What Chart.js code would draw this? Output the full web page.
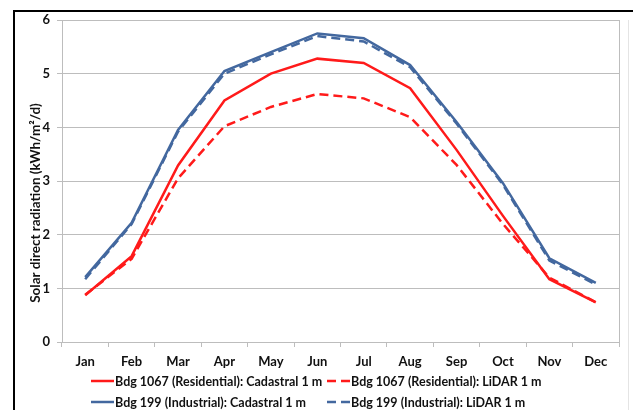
<!DOCTYPE html>
<html>
<head>
<meta charset="utf-8">
<script src="https://cdn.jsdelivr.net/npm/chart.js@4/dist/chart.umd.min.js"></script>
<style>
  html, body { margin: 0; padding: 0; background: #ffffff; }
  #wrap { position: relative; width: 633px; height: 410px; overflow: hidden; }
  #frame { position: absolute; left: 13px; top: 10px; width: 700px; height: 500px; border-top: 2px solid #000; border-left: 2px solid #000; box-sizing: border-box; }
  #faint { position: absolute; left: 628px; top: 20px; width: 1px; height: 390px; background: #e4e4e4; }
  canvas { position: absolute; left: 0; top: 0; }
</style>
</head>
<body>
<div id="wrap">
  <div id="frame"></div>
  <div id="faint"></div>
  <canvas id="c" width="633" height="410"></canvas>
</div>
<script>
const months = ['Jan','Feb','Mar','Apr','May','Jun','Jul','Aug','Sep','Oct','Nov','Dec'];
const resCadastral = [0.87, 1.60, 3.29, 4.50, 5.00, 5.28, 5.20, 4.73, 3.58, 2.35, 1.17, 0.74];
const resLidar     = [0.88, 1.55, 3.05, 4.02, 4.38, 4.62, 4.54, 4.19, 3.30, 2.20, 1.20, 0.74];
const indCadastral = [1.21, 2.22, 3.95, 5.05, 5.40, 5.75, 5.66, 5.16, 4.10, 2.96, 1.56, 1.10];
const indLidar     = [1.17, 2.20, 3.92, 5.00, 5.36, 5.70, 5.60, 5.12, 4.07, 2.93, 1.52, 1.07];
const yTicks = [0, 1, 2, 3, 4, 5, 6];
const seriesNames = [
  'Bdg 1067 (Residential): Cadastral 1 m',
  'Bdg 1067 (Residential): LiDAR 1 m',
  'Bdg 199 (Industrial): Cadastral 1 m',
  'Bdg 199 (Industrial): LiDAR 1 m'
];
const yTitle = 'Solar direct radiation (kWh/m\u00B2/d)';

const RED = '#ff1a1a';
const BLUE = '#43689f';
const GRID = '#bdbdbd';
const TEXT = '#111111';
const FONT = 'Lato, "DejaVu Sans", sans-serif';
const DASH = [9, 5];

const frameBorder = {
  id: 'frameBorder',
  afterDatasetsDraw(chart) {
    const a = chart.chartArea, ctx = chart.ctx;
    ctx.save();
    ctx.strokeStyle = GRID;
    ctx.lineWidth = 1;
    ctx.beginPath();
    ctx.moveTo(Math.round(a.right) + 0.5, a.top);
    ctx.lineTo(Math.round(a.right) + 0.5, a.bottom);
    ctx.stroke();
    ctx.restore();
  }
};

const yTitlePlugin = {
  id: 'yTitlePlugin',
  afterDraw(chart) {
    const ctx = chart.ctx;
    const a = chart.chartArea;
    ctx.save();
    ctx.translate(36, (a.top + a.bottom) / 2 + 22);
    ctx.rotate(-Math.PI / 2);
    ctx.font = 'bold 13.5px ' + FONT;
    ctx.fillStyle = TEXT;
    ctx.textAlign = 'center';
    ctx.textBaseline = 'middle';
    ctx.fillText(yTitle, 0, 0);
    ctx.restore();
  }
};

const customLegend = {
  id: 'customLegend',
  afterDraw(chart) {
    const ctx = chart.ctx;
    const items = [
      { x: 91, y: 381, ds: 0 },
      { x: 327, y: 381, ds: 1 },
      { x: 91, y: 402, ds: 2 },
      { x: 327, y: 402, ds: 3 }
    ];
    ctx.save();
    ctx.font = 'bold 12.5px ' + FONT;
    ctx.textBaseline = 'middle';
    ctx.fillStyle = TEXT;
    items.forEach(it => {
      const d = chart.data.datasets[it.ds];
      ctx.strokeStyle = d.borderColor;
      ctx.lineWidth = 2.5;
      ctx.setLineDash(d.borderDash || []);
      ctx.beginPath();
      ctx.moveTo(it.x, it.y);
      ctx.lineTo(it.x + 23, it.y);
      ctx.stroke();
      ctx.setLineDash([]);
      ctx.fillText(d.label, it.x + 24, it.y + 0.5);
    });
    ctx.restore();
  }
};

new Chart(document.getElementById('c'), {
  type: 'line',
  data: {
    labels: months,
    datasets: [
      { label: seriesNames[0], data: resCadastral, borderColor: RED, borderWidth: 2.5 },
      { label: seriesNames[1], data: resLidar, borderColor: RED, borderWidth: 2.5, borderDash: DASH },
      { label: seriesNames[2], data: indCadastral, borderColor: BLUE, borderWidth: 2.5 },
      { label: seriesNames[3], data: indLidar, borderColor: BLUE, borderWidth: 2.5, borderDash: DASH }
    ]
  },
  options: {
    responsive: false,
    animation: false,
    devicePixelRatio: 1,
    elements: { point: { radius: 0, hoverRadius: 0 }, line: { tension: 0, borderCapStyle: 'butt', fill: false } },
    layout: { padding: { top: 20, right: 14, left: 0, bottom: 40 } },
    plugins: { legend: { display: false }, tooltip: { enabled: false } },
    scales: {
      x: {
        offset: true,
        grid: { display: true, drawOnChartArea: false, drawTicks: true, tickLength: 5, color: GRID, offset: true },
        border: { display: true, color: GRID, width: 1 },
        ticks: { color: TEXT, font: { family: FONT, size: 13, weight: 'bold' }, padding: 7, maxRotation: 0, autoSkip: false },
        afterFit(s) { s.height = 28; }
      },
      y: {
        min: 0, max: 6,
        afterBuildTicks(s) { s.ticks = yTicks.map(v => ({ value: v })); },
        grid: { color: GRID, lineWidth: 1, drawTicks: true, tickLength: 5 },
        border: { display: true, color: GRID, width: 1 },
        ticks: { color: TEXT, font: { family: FONT, size: 13, weight: 'bold' }, padding: 7 },
        afterFit(s) { s.width = 62; }
      }
    }
  },
  plugins: [frameBorder, yTitlePlugin, customLegend]
});
</script>
</body>
</html>
